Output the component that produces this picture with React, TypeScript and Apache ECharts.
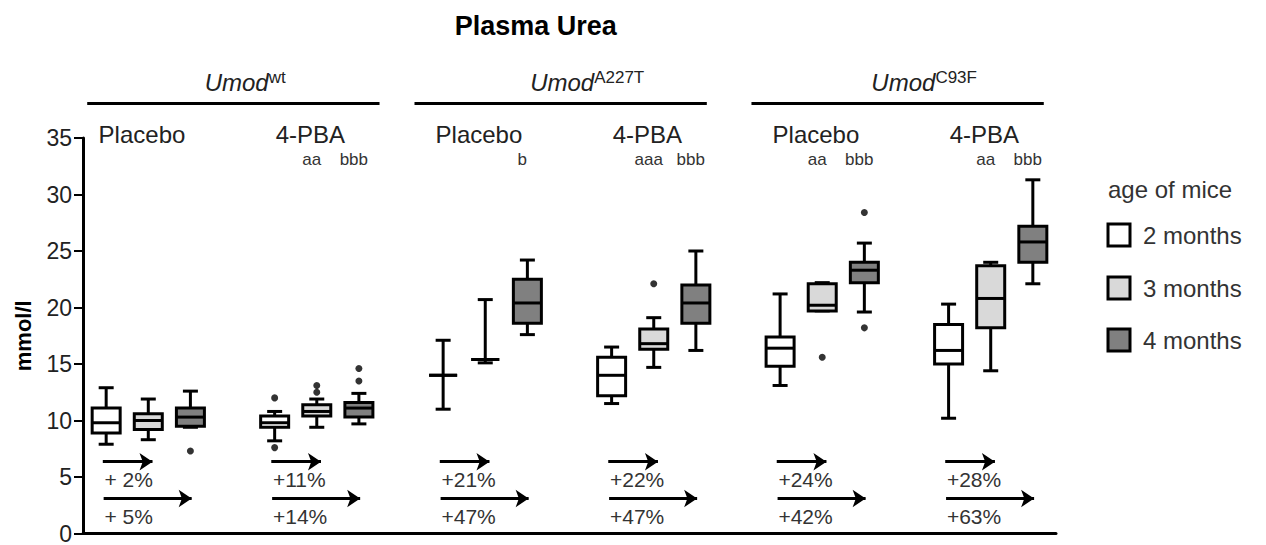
import React, { useEffect, useRef } from 'react';
import * as echarts from 'echarts';

const FONT = '"Liberation Sans", Arial, Helvetica, sans-serif';

const chartTitle = 'Plasma Urea';
const yAxisName = 'mmol/l';
const legendTitle = 'age of mice';
const ageGroups = ['2 months', '3 months', '4 months'];
const ageColors = ['#ffffff', '#d9d9d9', '#808080'];
const genotypes = ['wt', 'A227T', 'C93F'];
const treatments = ['Placebo', '4-PBA'];
const yTicks = { min: 0, max: 35, interval: 5 };

// Box values per age (2, 3, 4 months): [min, Q1, median, Q3, max]
const wtPlacebo = [
  [7.9, 8.9, 9.8, 11.1, 12.9],
  [8.3, 9.2, 10.0, 10.6, 11.9],
  [9.4, 9.5, 10.3, 11.1, 12.6],
];
const wtPba = [
  [8.2, 9.4, 9.8, 10.4, 10.8],
  [9.4, 10.4, 10.8, 11.4, 11.9],
  [9.7, 10.3, 11.1, 11.6, 12.4],
];
const a227tPlacebo = [
  [11.0, 14.0, 14.0, 14.0, 17.1],
  [15.1, 15.4, 15.4, 15.4, 20.7],
  [17.6, 18.6, 20.4, 22.5, 24.2],
];
const a227tPba = [
  [11.5, 12.2, 14.0, 15.6, 16.5],
  [14.7, 16.3, 16.8, 18.1, 19.1],
  [16.2, 18.6, 20.4, 22.0, 25.0],
];
const c93fPlacebo = [
  [13.1, 14.8, 16.4, 17.4, 21.2],
  [19.7, 19.7, 20.2, 22.1, 22.2],
  [19.6, 22.2, 23.3, 24.0, 25.7],
];
const c93fPba = [
  [10.2, 15.0, 16.2, 18.5, 20.3],
  [14.4, 18.2, 20.8, 23.7, 24.0],
  [22.1, 24.0, 25.8, 27.2, 31.3],
];

// Outliers per age (2, 3, 4 months)
const wtPlaceboOut = [[], [], [7.3]];
const wtPbaOut = [[12.0, 7.6], [12.5, 13.1], [13.5, 14.6]];
const a227tPlaceboOut = [[], [], []];
const a227tPbaOut = [[], [22.1], []];
const c93fPlaceboOut = [[], [15.6], [28.4, 18.2]];
const c93fPbaOut = [[], [], []];

// Significance letters above each box
const wtPlaceboSig = ['', '', ''];
const wtPbaSig = ['', 'aa', 'bbb'];
const a227tPlaceboSig = ['', '', 'b'];
const a227tPbaSig = ['', 'aaa', 'bbb'];
const c93fPlaceboSig = ['', 'aa', 'bbb'];
const c93fPbaSig = ['', 'aa', 'bbb'];

// Percent increase 2 -> 3 months and 2 -> 4 months
const increase3m = ['+ 2%', '+11%', '+21%', '+22%', '+24%', '+28%'];
const increase4m = ['+ 5%', '+14%', '+47%', '+47%', '+42%', '+63%'];

const boxGroups = [wtPlacebo, wtPba, a227tPlacebo, a227tPba, c93fPlacebo, c93fPba];
const outGroups = [wtPlaceboOut, wtPbaOut, a227tPlaceboOut, a227tPbaOut, c93fPlaceboOut, c93fPbaOut];
const sigGroups = [wtPlaceboSig, wtPbaSig, a227tPlaceboSig, a227tPbaSig, c93fPlaceboSig, c93fPbaSig];

const SLOTS_PER_GROUP = 4;
const slotOf = (g: number, a: number) => g * SLOTS_PER_GROUP + a;

export default function App() {
  const ref = useRef<HTMLDivElement>(null);

  useEffect(() => {
    if (!ref.current) return;
    const chart = echarts.init(ref.current, null, { renderer: 'svg' });

    const boxData: number[][] = [];
    boxGroups.forEach((grp, g) =>
      grp.forEach((b, a) => boxData.push([slotOf(g, a), ...b, a]))
    );
    const outData: number[][] = [];
    outGroups.forEach((grp, g) =>
      grp.forEach((vals, a) => vals.forEach((v) => outData.push([slotOf(g, a), v])))
    );

    const arrowLines: any[] = [];
    boxGroups.forEach((_, g) => {
      const s0 = slotOf(g, 0);
      arrowLines.push([{ coord: [s0 - 0.08, 6.35] }, { coord: [s0 + 1.1, 6.35] }]);
      arrowLines.push([{ coord: [s0 - 0.06, 3.1] }, { coord: [s0 + 2.03, 3.1] }]);
    });

    const lineStyle = { stroke: '#000', lineWidth: 3 };

    chart.setOption({
      animation: false,
      grid: { left: 83, right: 210, top: 138, bottom: 11 },
      xAxis: {
        type: 'value',
        min: -0.55,
        max: 22.55,
        axisLine: { show: true, onZero: false, lineStyle: { color: '#000', width: 3 } },
        axisTick: { show: false },
        axisLabel: { show: false },
        splitLine: { show: false },
      },
      yAxis: {
        type: 'value',
        min: yTicks.min,
        max: yTicks.max,
        interval: yTicks.interval,
        name: yAxisName,
        nameLocation: 'middle',
        nameRotate: 90,
        nameGap: 49,
        nameTextStyle: { fontFamily: FONT, fontSize: 22, fontWeight: 'bold', color: '#000' },
        axisLine: { show: true, onZero: false, lineStyle: { color: '#000', width: 3 } },
        axisTick: { show: true, length: 9, lineStyle: { color: '#000', width: 2 } },
        axisLabel: { fontFamily: FONT, fontSize: 23, color: '#222', margin: 11 },
        splitLine: { show: false },
      },
      series: [
        {
          type: 'custom',
          clip: false,
          silent: true,
          encode: { x: 0, y: [1, 2, 3, 4, 5] },
          data: boxData,
          renderItem: (params: any, api: any) => {
            const x = api.value(0);
            const mn = api.coord([x, api.value(1)]);
            const q1 = api.coord([x, api.value(2)]);
            const md = api.coord([x, api.value(3)]);
            const q3 = api.coord([x, api.value(4)]);
            const mx = api.coord([x, api.value(5)]);
            const a = api.value(6);
            const cx = mn[0];
            const hw = 14;
            const cw = 7.5;
            return {
              type: 'group',
              children: [
                { type: 'line', shape: { x1: cx, y1: mx[1], x2: cx, y2: q3[1] }, style: lineStyle },
                { type: 'line', shape: { x1: cx, y1: q1[1], x2: cx, y2: mn[1] }, style: lineStyle },
                { type: 'line', shape: { x1: cx - cw, y1: mx[1], x2: cx + cw, y2: mx[1] }, style: lineStyle },
                { type: 'line', shape: { x1: cx - cw, y1: mn[1], x2: cx + cw, y2: mn[1] }, style: lineStyle },
                {
                  type: 'rect',
                  shape: { x: cx - hw, y: q3[1], width: hw * 2, height: q1[1] - q3[1] },
                  style: { fill: ageColors[a], stroke: '#000', lineWidth: 3 },
                },
                { type: 'line', shape: { x1: cx - hw, y1: md[1], x2: cx + hw, y2: md[1] }, style: lineStyle },
              ],
            };
          },
        },
        {
          type: 'scatter',
          data: outData,
          symbol: 'circle',
          symbolSize: 7,
          itemStyle: { color: '#000' },
          silent: true,
          markLine: {
            silent: true,
            symbol: ['none', 'arrow'],
            symbolSize: 13,
            label: { show: false },
            lineStyle: { color: '#000', width: 3, type: 'solid' },
            emphasis: { disabled: true },
            data: arrowLines,
          },
        },
      ],
    });

    const px = (x: number, y: number) => chart.convertToPixel({ gridIndex: 0 }, [x, y]) as number[];
    const text = (x: number, y: number, t: string, size: number, extra: any = {}) => ({
      type: 'text',
      x,
      y,
      silent: true,
      style: {
        text: t,
        fontSize: size,
        fontFamily: FONT,
        fill: '#222',
        align: 'center',
        textAlign: 'center',
        verticalAlign: 'middle',
        textVerticalAlign: 'middle',
        ...extra,
      },
    });

    const graphics: any[] = [];
    // Title
    const titlePos = px(10.2, 44.9);
    graphics.push(text(titlePos[0], titlePos[1], chartTitle, 27, { fontWeight: 'bold', fill: '#000' }));

    // Genotype headers with lines
    genotypes.forEach((gt, k) => {
      const first = slotOf(k * 2, 0);
      const last = slotOf(k * 2 + 1, 2);
      const lx0 = px(first - (k === 0 ? 0.45 : 0.68), 38.05);
      const lx1 = px(last + (k === 0 ? 0.49 : 0.26), 38.05);
      graphics.push({
        type: 'line',
        silent: true,
        shape: { x1: lx0[0], y1: lx0[1], x2: lx1[0], y2: lx1[1] },
        style: { stroke: '#000', lineWidth: 3 },
      });
      const c = px((first + last) / 2 + (k === 0 ? 0.3 : 0.42), 39.9);
      graphics.push(
        text(c[0], c[1], `{i|Umod}{s|${gt}}`, 24, {
          rich: {
            i: { fontFamily: FONT, fontSize: 24, fontStyle: 'italic', fill: '#222', lineHeight: 28 },
            s: { fontFamily: FONT, fontSize: 17, fill: '#222', verticalAlign: 'top', lineHeight: 16 },
          },
        })
      );
    });

    // Treatment labels, significance letters, percent labels
    boxGroups.forEach((_, g) => {
      const tp = px(slotOf(g, 1) - 0.15, 35.3);
      graphics.push(text(tp[0], tp[1], treatments[g % 2], 24));
      sigGroups[g].forEach((s, a) => {
        if (!s) return;
        const sp = px(slotOf(g, a) - 0.12, 33.1);
        graphics.push(text(sp[0], sp[1], s, 17, { fill: '#333' }));
      });
      const p1 = px(slotOf(g, 0) - 0.04, 4.78);
      graphics.push(text(p1[0], p1[1], increase3m[g], 21, { align: 'left', textAlign: 'left', fill: '#333' }));
      const p2 = px(slotOf(g, 0) - 0.04, 1.53);
      graphics.push(text(p2[0], p2[1], increase4m[g], 21, { align: 'left', textAlign: 'left', fill: '#333' }));
    });

    // Legend
    graphics.push(text(1108, 189, legendTitle, 24, { align: 'left', textAlign: 'left', fill: '#333' }));
    const legendY = [235, 288, 340];
    ageGroups.forEach((lbl, a) => {
      graphics.push({
        type: 'rect',
        silent: true,
        shape: { x: 1108, y: legendY[a] - 11, width: 22, height: 22 },
        style: { fill: ageColors[a], stroke: '#000', lineWidth: 3 },
      });
      graphics.push(text(1143, legendY[a], lbl, 24, { align: 'left', textAlign: 'left', fill: '#333' }));
    });

    chart.setOption({ graphic: graphics });

    return () => chart.dispose();
  }, []);

  return (
    <div
      ref={ref}
      style={{ position: 'fixed', left: 0, top: 0, width: 1266, height: 545, background: '#fff' }}
    />
  );
}
